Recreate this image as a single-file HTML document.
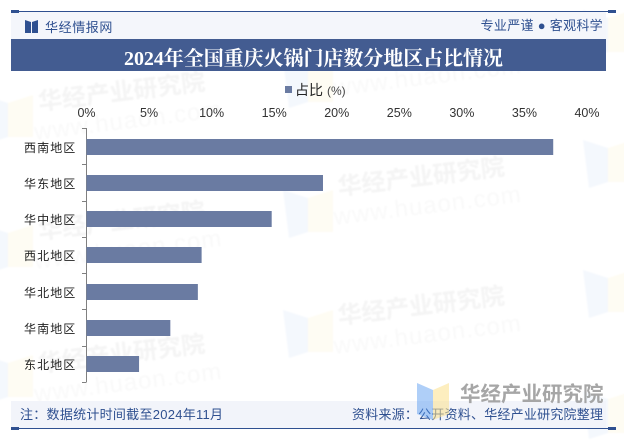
<!DOCTYPE html>
<html lang="zh">
<head>
<meta charset="utf-8">
<title>2024年全国重庆火锅门店数分地区占比情况</title>
<style>
html,body{margin:0;padding:0;background:#fff;width:624px;height:440px;overflow:hidden}
svg{display:block}
.cn{font-family:"Liberation Sans","WenQuanYi Zen Hei","Noto Sans CJK SC",sans-serif}
.wm{font-family:"Liberation Sans","Noto Sans CJK SC",sans-serif;font-weight:700;font-size:24px;fill:#f4f4f4}
.wm2{font-family:"Liberation Sans",sans-serif;font-size:24px;fill:#f9f9f9;letter-spacing:1px}
</style>
</head>
<body>
<svg id="chart" xmlns="http://www.w3.org/2000/svg" width="624" height="440" viewBox="0 0 624 440" style="overflow:hidden">
  <defs><filter id="soft"><feGaussianBlur stdDeviation="0.8"/></filter></defs>
  <g id="watermarks" filter="url(#soft)"></g>

  <rect x="11" y="12" width="595" height="27" fill="#f4f6fb"/>
  <rect x="11" y="11" width="605" height="1" fill="#2f5090"/>
  <rect x="11" y="10" width="8" height="3" fill="#2f5090"/>
  <rect x="608" y="10" width="8" height="3" fill="#2f5090"/>
  <g fill="#2f5090">
    <polygon points="25,20 31,22 31,33 25,33"/>
    <polygon points="38,20 32,22 32,33 38,33"/>
  </g>
  <text class="cn" x="45" y="32" font-size="13" letter-spacing="0.6" fill="#2f5090">华经情报网</text>
  <text class="cn" x="603" y="30" font-size="13" letter-spacing="0.3" text-anchor="end" fill="#2f5090">专业严谨 ● 客观科学</text>

  <rect x="11" y="39" width="595" height="32" fill="#435c91"/>
  <text x="124" y="65" font-size="20" font-weight="700" fill="#ffffff" textLength="379" lengthAdjust="spacing" style="font-family:'Liberation Serif','Noto Serif CJK SC',serif">2024年全国重庆火锅门店数分地区占比情况</text>

  <rect x="285" y="86" width="7" height="7" fill="#6a7ba2"/>
  <text class="cn" x="295" y="95" font-size="14" fill="#222">占比</text>
  <text class="cn" x="327" y="95" font-size="12" fill="#444">(%)</text>

  <g id="x-axis"></g>
  <g id="y-axis"></g>
  <g id="bars"></g>

  <rect x="11" y="401" width="595" height="27" fill="#f2f4fa"/>
  <rect x="11" y="428" width="605" height="1" fill="#2f5090"/>
  <rect x="11" y="427" width="8" height="3" fill="#2f5090"/>
  <rect x="608" y="427" width="8" height="3" fill="#2f5090"/>
  <text class="cn" x="20" y="419" font-size="13" fill="#2f5090" textLength="203" lengthAdjust="spacing">注：数据统计时间截至2024年11月</text>
  <text class="cn" x="352" y="419" font-size="13" fill="#2f5090" textLength="251" lengthAdjust="spacing">资料来源：公开资料、华经产业研究院整理</text>

  <g>
    <polygon points="417,383 433,390 433,420 417,414" fill="#4d94f0" fill-opacity="0.45"/>
    <polygon points="449,383 433,390 433,420 449,414" fill="#fbe08a" fill-opacity="0.55"/>
    <text x="460" y="401" font-size="20.5" font-weight="700" fill="#9c9c9c" fill-opacity="0.9" style="font-family:'Liberation Sans','Noto Sans CJK SC',sans-serif">华经产业研究院</text>
  </g>
</svg>
<script>
var categories = ["西南地区", "华东地区", "华中地区", "西北地区", "华北地区", "华南地区", "东北地区"];
var shareValues = [37.3, 18.9, 14.8, 9.2, 8.9, 6.7, 4.2];
var tickValues = [0, 5, 10, 15, 20, 25, 30, 35, 40];

var NS = "http://www.w3.org/2000/svg";
var plotLeft = 86.5, plotRight = 587, plotTop = 128, plotBottom = 382;
var barHeight = 16;

function xScale(v) { return plotLeft + (v / 40) * (plotRight - plotLeft); }
function bandTop(i) { return plotTop + i * (plotBottom - plotTop) / categories.length; }
function make(tag, attrs, parent) {
  var el = document.createElementNS(NS, tag);
  for (var k in attrs) el.setAttribute(k, attrs[k]);
  parent.appendChild(el);
  return el;
}

/* faint background watermarks */
var wmLayer = document.getElementById("watermarks");
var wmGroups = [[121.5, 73], [121.5, 202], [121.5, 335], [421, 158], [421, 287], [421, 29]];
wmGroups.forEach(function (p) {
  var g = make("g", { transform: "translate(" + p[0] + "," + (p[1] + 18) + ") rotate(-7)" }, wmLayer);
  
  
  var a = make("text", { "class": "wm", x: 0, y: 9, "text-anchor": "middle" }, g);
  a.textContent = "华经产业研究院";
  var b = make("text", { "class": "wm2", x: 3, y: 38, "text-anchor": "middle" }, g);
  b.textContent = "www.huaon.com";
});
var wmBooks = [[283, 60], [283, 190], [283, 310], [583, 10], [583, 140], [583, 270], [583, 391], [-17, 95], [-17, 225], [-17, 355]];
wmBooks.forEach(function (p) {
  var blue = make("polygon", { points: [p[0], p[1], p[0] + 25, p[1] + 8, p[0] + 25, p[1] + 42, p[0] + 6, p[1] + 48].join(" "), fill: "#f4f8fd" }, wmLayer);
  
  
  var yellow = make("polygon", { points: [p[0] + 25, p[1] + 8, p[0] + 50, p[1], p[0] + 50, p[1] + 42, p[0] + 25, p[1] + 42].join(" "), fill: "#fefcf3" }, wmLayer);
  
  
});

/* x axis tick labels */
var xAxis = document.getElementById("x-axis");
tickValues.forEach(function (t) {
  var label = make("text", { x: xScale(t), y: 117, "text-anchor": "middle", "font-size": "12.5", fill: "#333", "font-family": "'Liberation Sans',sans-serif" }, xAxis);
  
  
  label.textContent = t + "%";
});

/* y axis line, ticks and labels */
var yAxis = document.getElementById("y-axis");
var axisLine = make("line", { x1: plotLeft, x2: plotLeft, y1: plotTop, y2: plotBottom, stroke: "#808080", "stroke-width": 1 }, yAxis);


for (var i = 0; i <= categories.length; i++) {
  var ty = Math.round(bandTop(i)) + 0.5;
  var tick = make("line", { x1: plotLeft - 4.5, x2: plotLeft, y1: ty, y2: ty, stroke: "#808080", "stroke-width": 1 }, yAxis);
  
  
}

/* bars and category labels */
var barsGroup = document.getElementById("bars");
categories.forEach(function (name, idx) {
  var top = Math.round(bandTop(idx) + 10.5);
  var bar = make("rect", { x: plotLeft, y: top, width: xScale(shareValues[idx]) - plotLeft, height: barHeight, fill: "#6a7ba2" }, barsGroup);
  
  
  var label = make("text", { "class": "cn", x: 24, y: top + 13, "font-size": "12", "letter-spacing": "1.1", fill: "#222" }, yAxis);
  
  
  label.textContent = name;
});
</script>
</body>
</html>
